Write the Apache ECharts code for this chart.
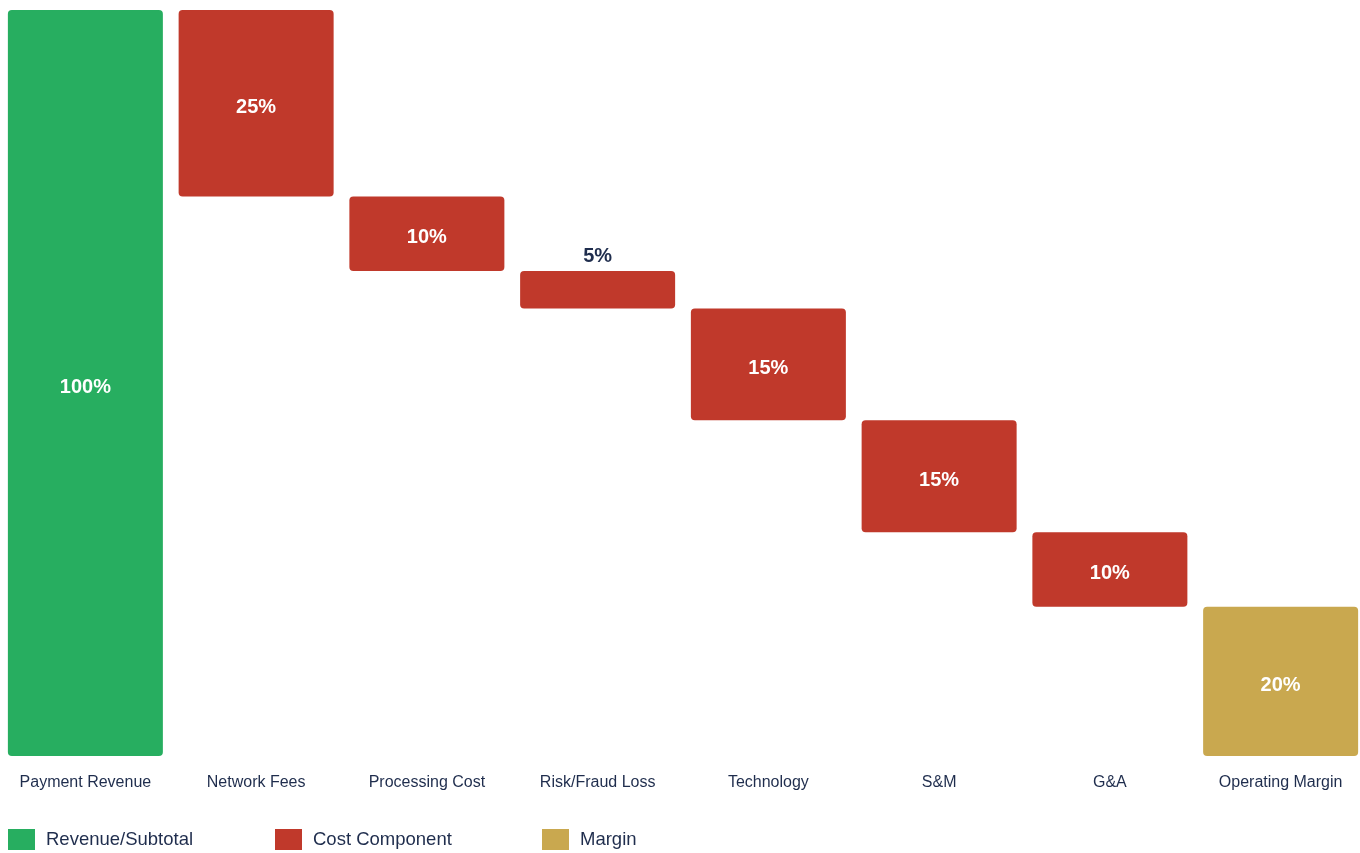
<!DOCTYPE html>
<html>
<head>
<meta charset="utf-8">
<style>
  html, body { margin: 0; padding: 0; background: #fff; }
  #chart { width: 1360px; height: 853px; }
</style>
<script src="https://cdn.jsdelivr.net/npm/echarts@6/dist/echarts.min.js"></script>
</head>
<body>
<div id="chart"></div>
<script>
// 瀑布图数据
var categories = ["Payment Revenue", "Network Fees", "Processing Cost", "Risk/Fraud Loss", "Technology", "S&M", "G&A", "Operating Margin"];
var revenueVals = [100, null, null, null, null, null, null, null];
var costVals = [null, 25, 10, 5, 15, 15, 10, null];
var marginVals = [null, null, null, null, null, null, null, 20];
var baseVals = [0, 75, 65, 60, 45, 30, 20, 0];

var navy = "#1f2d4d";
var font = "Liberation Sans, Arial, sans-serif";

// 小柱子的标签放上面
function labelFor(v){
    var small = v < 8;
    return {
        show: true,
        position: small ? "top" : "inside",
        offset: small ? [0, 0] : [0, 4],
        color: small ? navy : "#fff",
        fontSize: 20,
        fontWeight: "bold",
        fontFamily: font,
        formatter: "{c}%"
    };
}
function wrap(arr){
    return arr.map(function(v){
        if(v == null) return null;
        return { value: v, label: labelFor(v) };
    });
}

function legendAt(name, left){
    return {
        data: [name], left: left, bottom: 3, padding: 0, itemWidth: 27, itemHeight: 21,
        itemGap: 0, icon: "rect", selectedMode: false,
        textStyle: { color: navy, fontSize: 18.5, fontFamily: font, padding: [0, 0, 0, 6] }
    };
}

var chart = echarts.init(document.getElementById("chart"));
chart.setOption({
    animation: false,
    grid: { left: 0, right: -6, top: 10, bottom: 97, containLabel: false, outerBoundsMode: "none" },
    legend: [
        legendAt("Revenue/Subtotal", 8),
        legendAt("Cost Component", 275),
        legendAt("Margin", 542)
    ],
    xAxis: {
        type: "category",
        data: categories,
        axisLine: { show: false },
        axisTick: { show: false },
        axisLabel: { interval: 0, color: navy, fontSize: 16, margin: 19, fontFamily: font }
    },
    yAxis: { type: "value", min: 0, max: 100, show: false, splitLine: { show: false } },
    series: [
        { name: "base", type: "bar", stack: "w", data: baseVals, barWidth: 155,
          itemStyle: { color: "transparent" }, silent: true },
        { name: "Revenue/Subtotal", type: "bar", stack: "w", data: wrap(revenueVals),
          itemStyle: { color: "#27ae60", borderRadius: 4 } },
        { name: "Cost Component", type: "bar", stack: "w", data: wrap(costVals),
          itemStyle: { color: "#c0392b", borderRadius: 4 } },
        { name: "Margin", type: "bar", stack: "w", data: wrap(marginVals),
          itemStyle: { color: "#c9a84f", borderRadius: 4 } }
    ]
});
</script>
</body>
</html>
